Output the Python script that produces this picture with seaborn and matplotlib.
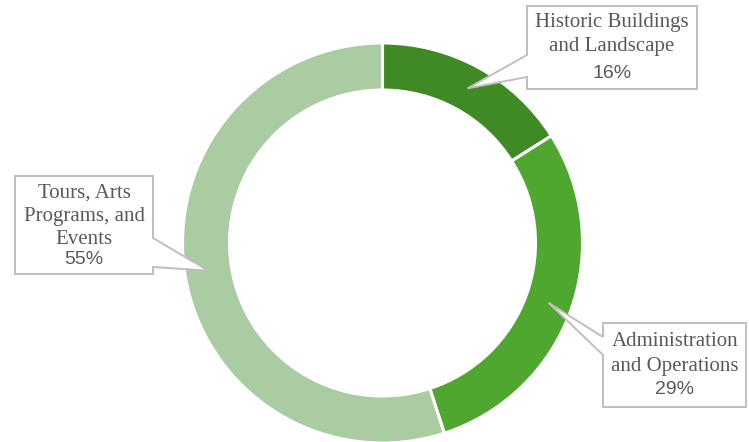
import numpy as np
import seaborn as sns
import matplotlib.pyplot as plt
from matplotlib.patches import Polygon

# data
categories = ["Historic Buildings\nand Landscape", "Administration\nand Operations", "Tours, Arts\nPrograms, and\nEvents"]
shares = [16, 29, 55]
colors = ["#3F8A24", "#4FA72F", "#AACCA3"]

sns.set_theme(style="white")

W, H = 749, 442
fig = plt.figure(figsize=(W / 100, H / 100), dpi=100)
ax = fig.add_axes([0, 0, 1, 1])

cx, cy = 382.5, 243      # pixel coords, y down
R, ring = 200, 47

def P(x, y):
    return (x, H - y)

ax.pie(shares, colors=colors, startangle=90, counterclock=False,
       radius=R, center=P(cx, cy),
       wedgeprops=dict(width=ring, edgecolor="white", linewidth=2.2))

# callout tips at middle of each slice
cum = np.cumsum([0] + shares[:-1])
mids = (cum + np.array(shares) / 2) / sum(shares) * 360
rm = R - ring / 2
tips = [(cx + rm * np.sin(np.radians(a)), cy - rm * np.cos(np.radians(a))) for a in mids]

edge = "#BFBFBF"
txt = "#595959"

# box outlines (pixel coords, y down) with pointer inserted
boxes = [
    [(527, 6), (697, 6), (697, 89), (527, 89), (527, 77), tips[0], (527, 55)],
    [(603, 323), (746, 323), (746, 407), (603, 407), (603, 355), tips[1], (603, 337)],
    [(15, 176), (153, 176), (153, 238), tips[2], (153, 267), (153, 274), (15, 274)],
]
for pts in boxes:
    ax.add_patch(Polygon([P(x, y) for x, y in pts], closed=True, facecolor="white",
                         edgecolor=edge, linewidth=1.4, zorder=5))

label_pos = [
    (612, [22, 47], 73),
    (675, [342, 366], 390),
    (84, [193, 217, 240], 259),
]
for name, pct, (x, ys, yp) in zip(categories, shares, label_pos):
    for line, y in zip(name.split("\n"), ys):
        ax.text(*P(x, y), line, ha="center", va="center", fontsize=15,
                family="Liberation Serif", color=txt, zorder=6)
    ax.text(*P(x, yp), f"{pct}%", ha="center", va="center", fontsize=14,
            family="Liberation Sans", color=txt, zorder=6)

ax.set_xlim(0, W)
ax.set_ylim(0, H)
ax.set_aspect("auto")
ax.axis("off")

fig.savefig("out.png", dpi=100)
